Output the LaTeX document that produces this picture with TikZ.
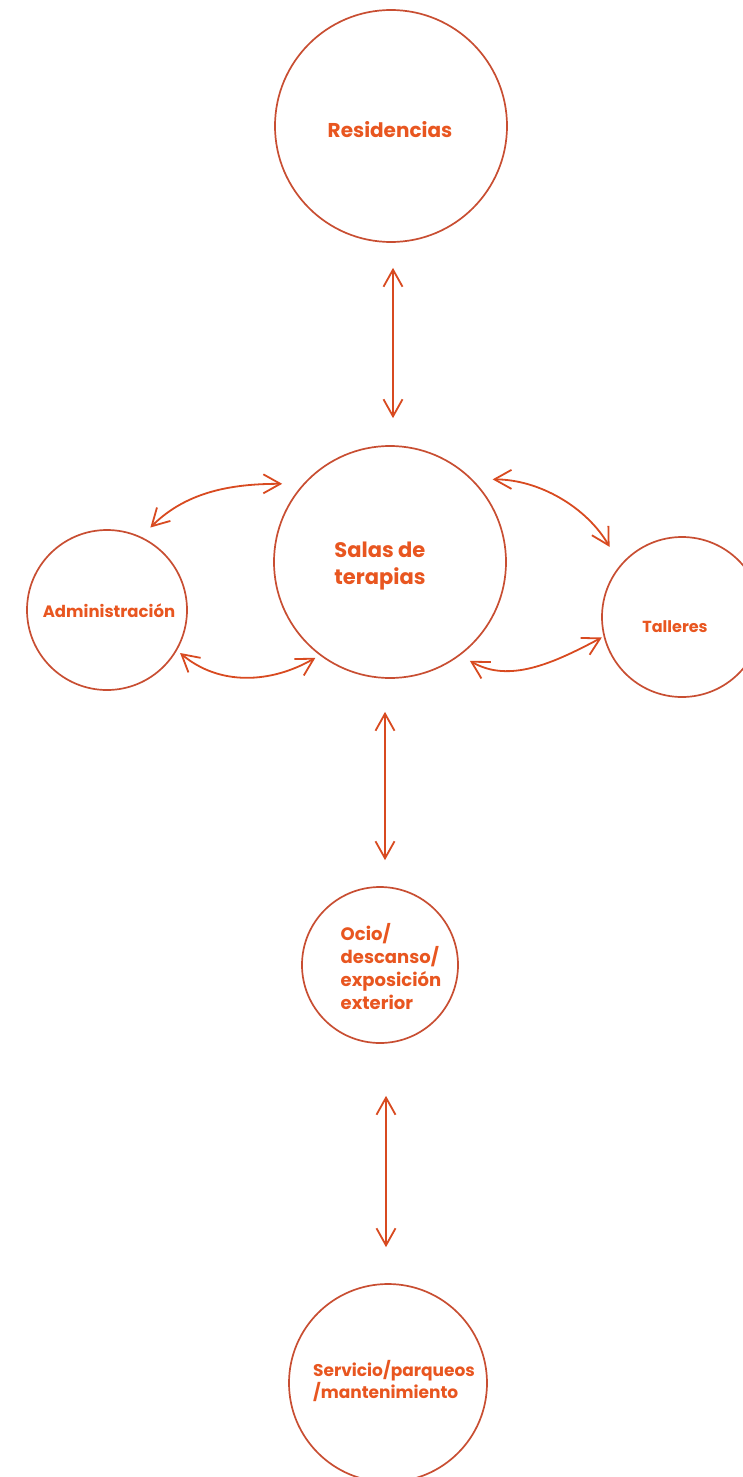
\documentclass[tikz,border=0pt]{standalone}
\usepackage{fontspec}
\setmainfont{Poppins}
\usetikzlibrary{arrows.meta}
\definecolor{circcol}{RGB}{200,78,50}
\definecolor{txtcol}{RGB}{232,86,32}
\definecolor{arrcol}{RGB}{216,74,32}
\tikzset{
  zona/.style={draw=circcol, circle, line width=1.7pt, inner sep=0pt},
  etiq/.style={text=txtcol, font=\bfseries, inner sep=0pt},
  flecha/.style={arrcol, line width=1.8pt,
    {Straight Barb[length=17pt,width=19pt]}-{Straight Barb[length=17pt,width=19pt]}}
}
\begin{document}
\begin{tikzpicture}[x=1pt, y=-1pt]
        \useasboundingbox (0,0) rectangle (742,1477);

        % zonas
        \node[zona, minimum size=232pt] (res) at (391,126) {};
        \node[zona, minimum size=232pt] (sal) at (390,562) {};
        \node[zona, minimum size=160pt] (adm) at (107,610) {};
        \node[zona, minimum size=160pt] (tal) at (682,617) {};
        \node[zona, minimum size=156pt] (oci) at (380,965) {};
        \node[zona, minimum size=198pt] (ser) at (388,1383) {};

        % textos
        \node[etiq, font=\fontsize{20}{26}\bfseries] (res-t) at (390,130) {Residencias};
        \node[etiq, align=left, font=\fontsize{21}{27}\bfseries] (sal-t) at (380,566) {Salas de\\terapias};
        \node[etiq, font=\fontsize{16.5}{21}\bfseries] (adm-t) at (109,611) {Administración};
        \node[etiq, font=\fontsize{16}{20}\bfseries] (tal-t) at (675,627) {Talleres};
        \node[etiq, align=left, font=\fontsize{18}{23}\bfseries] (oci-t) at (391,967) {Ocio/\\descanso/\\exposición\\exterior};
        \node[etiq, align=left, font=\fontsize{17}{22}\bfseries] (ser-t) at (394,1381) {Servicio/parqueos\\/mantenimiento};

        % relaciones verticales
        \draw[flecha, shorten <=25pt, shorten >=27pt] ([xshift=2pt]res.south) -- ([xshift=3pt]sal.north);
        \draw[flecha, shorten <=33pt, shorten >=26pt] ([xshift=-5pt]sal.south) -- ([xshift=5pt]oci.north);
        \draw[flecha, shorten <=52pt, shorten >=36pt] ([xshift=6pt]oci.south) -- ([xshift=-2pt]ser.north);

        % relaciones laterales
        \draw[flecha, shorten <=13pt, shorten >=21pt] (adm.65) to[out=45, in=180] (sal.138);
        \draw[flecha, shorten <=4pt, shorten >=5pt] (adm.-30) to[out=-40, in=210] (sal.233);
        \draw[flecha, shorten <=20pt, shorten >=21pt] (sal.45) to[out=0, in=120] (tal.140);
        \draw[flecha, shorten <=11pt, shorten >=2pt] (sal.-53) to[out=-30, in=208] (tal.194);
    \end{tikzpicture}
\end{document}
